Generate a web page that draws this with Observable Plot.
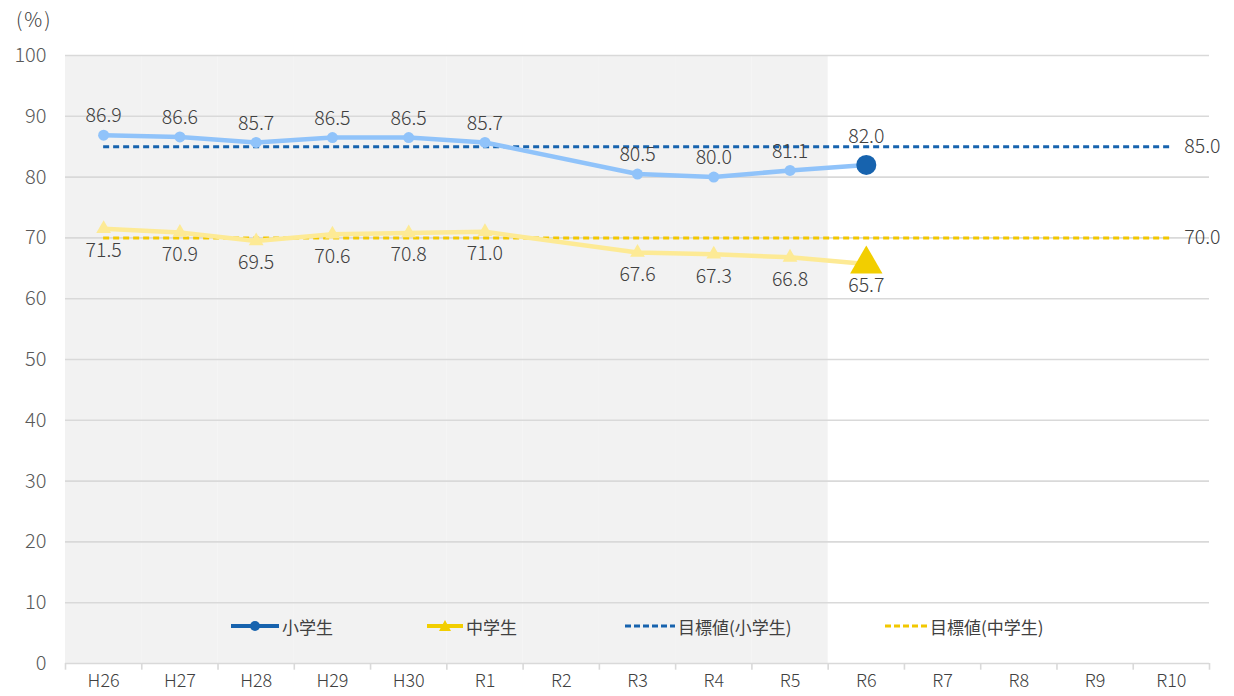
<!DOCTYPE html>
<html><head><meta charset="utf-8">
<script src="https://cdn.jsdelivr.net/npm/d3@7"></script>
<script src="https://cdn.jsdelivr.net/npm/@observablehq/plot@0.6"></script>
<style>
body{margin:0;background:#fff;font-family:"Noto Sans CJK JP","Noto Sans",sans-serif;}
#wrap{position:relative;width:1234px;height:696px;}
#unit{position:absolute;left:16px;top:4px;font-size:20px;color:#404040;z-index:2;font-weight:300;letter-spacing:2px;}
#legend{position:absolute;top:614px;left:0;width:1234px;height:24px;font-size:17px;color:#404040;z-index:2;}
.li{position:absolute;display:flex;align-items:center;height:24px;}
</style></head>
<body><div id="wrap"><div id="unit">(%)</div><div id="legend"></div></div>
<script>
const years = ["H26","H27","H28","H29","H30","R1","R2","R3","R4","R5","R6","R7","R8","R9","R10"];
const elementary = [86.9, 86.6, 85.7, 86.5, 86.5, 85.7, null, 80.5, 80.0, 81.1, 82.0];
const juniorHigh = [71.5, 70.9, 69.5, 70.6, 70.8, 71.0, null, 67.6, 67.3, 66.8, 65.7];
const targetElementary = 85.0;
const targetJunior = 70.0;
const shadedYears = ["H26","H27","H28","H29","H30","R1","R2","R3","R4","R5"];
const yTicks = [0,10,20,30,40,50,60,70,80,90,100];

const elemData = elementary.map((v,i)=>({i, v})).filter(d=>d.v!=null);
const juniorData = juniorHigh.map((v,i)=>({i, v})).filter(d=>d.v!=null);
const elemLast = elemData.slice(-1);
const juniorLast = juniorData.slice(-1);
const elemRest = elemData.slice(0,-1);
const juniorRest = juniorData.slice(0,-1);
const idx = years.map((_,i)=>i);
const shaded = shadedYears.map(y=>years.indexOf(y));
const targets = [
  {v: targetElementary, c: "#1763ae"},
  {v: targetJunior, c: "#f2c800"}
];
const fmt = d3.format(".1f");
const textColor = "#404040";
const lbl = {fontSize: 19.5, fill: textColor, letterSpacing: "0.5px", fontWeight: 300};

const chart = Plot.plot({
  width: 1234, height: 696,
  marginTop: 55, marginBottom: 33, marginLeft: 65, marginRight: 25,
  style: {fontFamily: '"Noto Sans CJK JP","Noto Sans",sans-serif', background: "transparent"},
  x: {domain: [-0.5, years.length - 0.5], axis: null},
  y: {domain: [0, 100], axis: null},
  marks: [
    Plot.rectY(shaded, {x1: d=>d-0.5, x2: d=>d+0.5, y1: 0, y2: 100, fill: "#f2f2f2"}),
    Plot.ruleY(yTicks, {stroke: "#d9d9d9", strokeWidth: 1.6}),
    Plot.ruleX(d3.range(years.length + 1), {x: d=>d-0.5, y1: 0, y2: -1.1, stroke: "#d9d9d9", strokeWidth: 1.6}),
    Plot.text(yTicks, {x: -0.5, y: d=>d, text: d=>String(d), textAnchor: "end", dx: -19, fontSize: 20, fill: "#595959", fontWeight: 300}),
    Plot.text(idx, {x: d=>d, y: 0, text: d=>years[d], dy: 18, fontSize: 18, fill: textColor, fontWeight: 300}),
    // target lines
    ...targets.map(t => Plot.ruleY([t.v], {x1: 0, x2: years.length-1, y: d=>d, stroke: t.c, strokeWidth: 3, strokeDasharray: "6,4"})),
    Plot.text(targets, {x: years.length-1, y: "v", text: d=>fmt(d.v), textAnchor: "start", dx: 13, ...lbl}),
    // elementary
    Plot.line(elemData, {x: "i", y: "v", stroke: "#90c3fa", strokeWidth: 4.5}),
    Plot.dot(elemRest, {x: "i", y: "v", r: 5.5, fill: "#90c3fa"}),
    Plot.dot(elemLast, {x: "i", y: "v", r: 10, fill: "#1763ae"}),
    Plot.text(elemRest, {x: "i", y: "v", text: d=>fmt(d.v), dy: -19, ...lbl}),
    Plot.text(elemLast, {x: "i", y: "v", text: d=>fmt(d.v), dy: -28, ...lbl}),
    // junior high
    Plot.line(juniorData, {x: "i", y: "v", stroke: "#fdea95", strokeWidth: 4.5}),
    Plot.dot(juniorRest, {x: "i", y: "v", r: 5.5, symbol: "triangle", fill: "#fdea95"}),
    Plot.dot(juniorLast, {x: "i", y: "v", r: 12, symbol: "triangle", fill: "#f2ce00"}),
    Plot.text(juniorData, {x: "i", y: "v", text: d=>fmt(d.v), dy: 22, ...lbl})
  ]
});
chart.style.position = "absolute"; chart.style.left = "0"; chart.style.top = "0"; chart.style.zIndex = "1";
document.getElementById("wrap").appendChild(chart);

const legendItems = [
  {label: "小学生", left: 231, swatch: `<svg width="48" height="12"><line x1="0" y1="6" x2="48" y2="6" stroke="#1763ae" stroke-width="4"/><circle cx="24" cy="6" r="5" fill="#1763ae"/></svg>`},
  {label: "中学生", left: 427, swatch: `<svg width="36" height="14"><line x1="0" y1="7" x2="36" y2="7" stroke="#f2ce00" stroke-width="4"/><path d="M18,1 L24,12 L12,12 Z" fill="#f2ce00"/></svg>`},
  {label: "目標値(小学生)", left: 625, swatch: `<svg width="50" height="12"><line x1="0" y1="6" x2="50" y2="6" stroke="#1763ae" stroke-width="3" stroke-dasharray="6,3"/></svg>`},
  {label: "目標値(中学生)", left: 885, swatch: `<svg width="42" height="12"><line x1="0" y1="6" x2="42" y2="6" stroke="#f2c800" stroke-width="3" stroke-dasharray="6,3"/></svg>`}
];
const lg = document.getElementById("legend");
for (const it of legendItems) {
  const d = document.createElement("div");
  d.className = "li"; d.style.left = it.left + "px";
  d.innerHTML = it.swatch + `<span style="margin-left:3px">${it.label}</span>`;
  lg.appendChild(d);
}
</script></body></html>
